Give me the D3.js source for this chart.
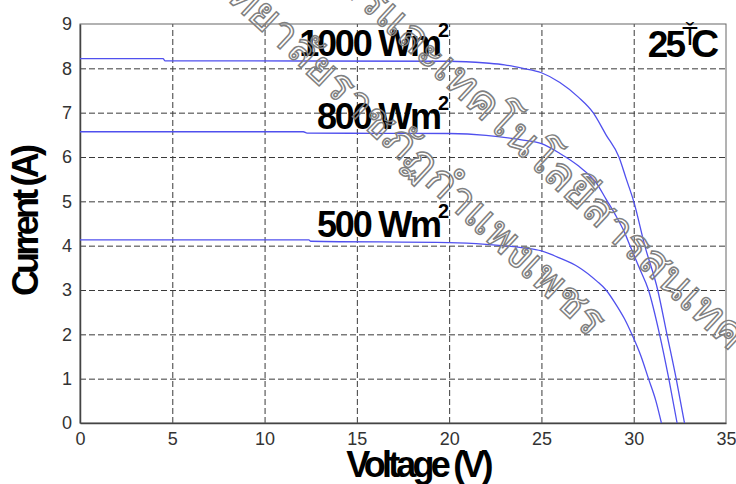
<!DOCTYPE html>
<html>
<head>
<meta charset="utf-8">
<script src="https://cdn.jsdelivr.net/npm/d3@7"></script>
<style>
  body { margin: 0; background: #fff; }
  svg { display: block; }
  .tick text { font-family: "Liberation Sans", Arial, sans-serif; }
</style>
</head>
<body>
<div id="chart"></div>
<script>
// I-V curves at three irradiance levels, 25 C
var xTicks = [0, 5, 10, 15, 20, 25, 30, 35]
var yTicks = [0, 1, 2, 3, 4, 5, 6, 7, 8, 9]

var irradiance = ["1000", "800", "500"]

var voltage1000 = [0, 4.5, 4.6, 20, 22, 23, 24, 25, 26, 27, 27.8, 28.5, 29.2, 29.6, 30.0, 30.6, 31.3, 31.8, 32.3, 32.75]
var current1000 = [8.22, 8.22, 8.17, 8.16, 8.12, 8.08, 8.0, 7.9, 7.68, 7.35, 7.0, 6.5, 6.0, 5.5, 5.0, 4.0, 3.0, 2.0, 1.0, 0]

var voltage800 = [0, 12.1, 12.3, 20, 22, 24, 25, 26, 27, 28, 28.5, 29, 29.5, 29.8, 30.3, 30.8, 31.4, 31.9, 32.35]
var current800 = [6.57, 6.57, 6.54, 6.53, 6.49, 6.38, 6.3, 6.08, 5.8, 5.4, 5.05, 4.7, 4.3, 4.0, 3.5, 3.0, 2.0, 1.0, 0]

var voltage500 = [0, 12.4, 12.5, 20, 22, 24, 25, 26, 27, 28, 28.5, 29, 29.5, 29.9, 30.4, 30.8, 31.2, 31.5]
var current500 = [4.13, 4.13, 4.1, 4.07, 4.03, 3.95, 3.88, 3.72, 3.52, 3.2, 3.0, 2.7, 2.35, 2.0, 1.5, 1.0, 0.5, 0]

var watermarkLines = ["มหาวิทยาลัยราชภัฏกำแพงเพชร", "สำนักวิทยบริการและเทคโนโลยีสารสนเทศ"]

var series = [
  {label: irradiance[0], v: voltage1000, i: current1000},
  {label: irradiance[1], v: voltage800, i: current800},
  {label: irradiance[2], v: voltage500, i: current500}
]

var margin = {top: 24, right: 10, bottom: 61, left: 80}
var width = 736 - margin.left - margin.right
var height = 484 - margin.top - margin.bottom

var x = d3.scaleLinear().domain([0, 35]).range([0, width])
var y = d3.scaleLinear().domain([0, 9]).range([height, 0])

var svg = d3.select("#chart").append("svg")
  .attr("width", 736)
  .attr("height", 484)

var g = svg.append("g")
  .attr("transform", "translate(" + margin.left + "," + margin.top + ")")

// dashed grid
g.append("g")
  .attr("transform", "translate(0," + height + ")")
  .call(d3.axisBottom(x).tickValues(xTicks.slice(1, -1)).tickSize(-height).tickFormat(""))
  .call(function(s){
    s.select(".domain").remove()
    s.selectAll("line").attr("stroke", "#3a3a3a").attr("stroke-dasharray", "6,3")
  })

g.append("g")
  .call(d3.axisLeft(y).tickValues(yTicks.slice(1, -1)).tickSize(-width).tickFormat(""))
  .call(function(s){
    s.select(".domain").remove()
    s.selectAll("line").attr("stroke", "#3a3a3a").attr("stroke-dasharray", "6,3")
  })

// frame
g.append("rect")
  .attr("width", width).attr("height", height)
  .attr("fill", "none").attr("stroke", "#666").attr("stroke-width", 1)

// tick labels
g.append("g")
  .attr("transform", "translate(0," + height + ")")
  .call(d3.axisBottom(x).tickValues(xTicks).tickSize(0).tickPadding(9))
  .call(function(s){
    s.select(".domain").attr("stroke", "#444").attr("stroke-width", 1.5)
    s.selectAll("text").attr("font-size", 18).attr("fill", "#333")
  })

g.append("g")
  .call(d3.axisLeft(y).tickValues(yTicks).tickSize(0).tickPadding(8))
  .call(function(s){
    s.select(".domain").attr("stroke", "#444").attr("stroke-width", 1.5)
    s.selectAll("text").attr("font-size", 18).attr("fill", "#333")
  })

// curves
var line = d3.line()
  .x(function(d){ return x(d[0]) })
  .y(function(d){ return y(d[1]) })
  .curve(d3.curveMonotoneX)

series.forEach(function(s){
  var pts = s.v.map(function(v, k){ return [v, s.i[k]] })
  g.append("path")
    .datum(pts)
    .attr("fill", "none")
    .attr("stroke", "#5050ee")
    .attr("stroke-width", 1.3)
    .attr("d", line)
})

// irradiance labels
var bold = "'Liberation Sans', Arial, sans-serif"
series.forEach(function(s){
  var lx = x(19.5), ly = y(s.i[0]) - 3
  g.append("text")
    .attr("x", lx).attr("y", ly)
    .attr("text-anchor", "end")
    .attr("font-family", bold).attr("font-weight", "bold")
    .attr("font-size", 36).attr("letter-spacing", -2.2)
    .text(s.label + " Wm")
  g.append("text")
    .attr("x", lx - 2).attr("y", ly - 19)
    .attr("font-family", bold).attr("font-weight", "bold")
    .attr("font-size", 20)
    .text("2")
})

// temperature
g.append("text")
  .attr("x", width - 43).attr("y", 33)
  .attr("text-anchor", "end")
  .attr("font-family", bold).attr("font-weight", "bold")
  .attr("font-size", 37).attr("letter-spacing", -3)
  .text("25")
g.append("text")
  .attr("x", width - 35).attr("y", 33)
  .attr("font-family", bold).attr("font-weight", "bold")
  .attr("font-size", 39)
  .text("C")
g.append("text")
  .attr("x", width - 36).attr("y", 21)
  .attr("text-anchor", "middle")
  .attr("font-family", bold)
  .attr("font-size", 26)
  .text("Ť")

// axis titles
svg.append("text")
  .attr("x", 418).attr("y", 477)
  .attr("text-anchor", "middle")
  .attr("font-family", bold).attr("font-weight", "bold")
  .attr("font-size", 36).attr("letter-spacing", -3.8)
  .text("Voltage (V)")

svg.append("text")
  .attr("transform", "translate(38,222) rotate(-90)")
  .attr("text-anchor", "middle")
  .attr("font-family", bold).attr("font-weight", "bold")
  .attr("font-size", 36).attr("letter-spacing", -3.8)
  .text("Current (A)")

// watermark
var wm = svg.append("g")
wm.append("text")
  .attr("transform", "translate(590,338) rotate(43)")
  .attr("text-anchor", "end")
  .attr("font-size", 44)
  .attr("fill", "none").attr("stroke", "#808080").attr("stroke-width", 1.5)
  .text(watermarkLines[0])
wm.append("text")
  .attr("transform", "translate(730,352) rotate(43)")
  .attr("text-anchor", "end")
  .attr("font-size", 44)
  .attr("fill", "none").attr("stroke", "#808080").attr("stroke-width", 1.5)
  .text(watermarkLines[1])
</script>
</body>
</html>
